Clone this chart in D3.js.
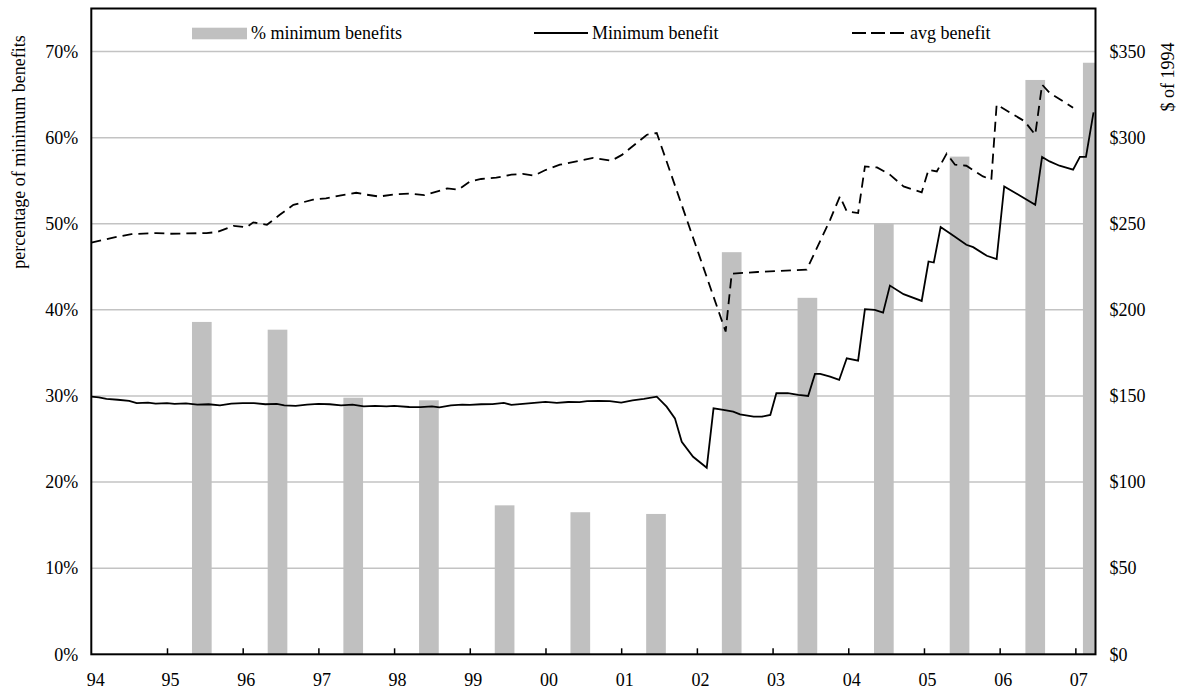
<!DOCTYPE html>
<html>
<head>
<meta charset="utf-8">
<script src="https://cdn.jsdelivr.net/npm/d3@7"></script>
<style>
  body { margin: 0; background: #fff; }
  svg text { font-family: "Liberation Serif", "Times New Roman", serif; fill: #000; }
</style>
</head>
<body>
<svg id="chart"></svg>
<script>
// bars: share of recipients on the minimum benefit (left axis)
var barYears = [1995.46, 1996.46, 1997.46, 1998.46, 1999.46, 2000.46, 2001.46,
                2002.46, 2003.46, 2004.47, 2005.47, 2006.47, 2007.23]
var barPct = [38.6, 37.7, 29.8, 29.5, 17.3, 16.5, 16.3, 46.7, 41.4, 50.0, 57.8, 66.7, 68.7]

// minimum benefit, $ of 1994 (right axis)
var minBenefit = [
  [1994.00, 149.6], [1994.10, 149.2], [1994.20, 148.3], [1994.35, 147.8], [1994.50, 147.2],
  [1994.60, 145.9], [1994.75, 146.1], [1994.85, 145.6], [1995.00, 145.9], [1995.10, 145.4],
  [1995.25, 145.7], [1995.40, 145.0], [1995.55, 145.2], [1995.70, 144.6], [1995.85, 145.6],
  [1996.00, 145.9], [1996.15, 145.8], [1996.30, 145.2], [1996.45, 145.4], [1996.55, 144.6],
  [1996.70, 144.3], [1996.85, 145.0], [1997.00, 145.4], [1997.15, 145.2], [1997.30, 144.6],
  [1997.45, 145.0], [1997.60, 144.0], [1997.75, 144.2], [1997.90, 144.0], [1998.00, 144.2],
  [1998.20, 143.6], [1998.35, 143.5], [1998.50, 144.0], [1998.60, 143.4], [1998.75, 144.5],
  [1998.90, 145.0], [1999.00, 144.8], [1999.15, 145.2], [1999.30, 145.3], [1999.45, 146.0],
  [1999.55, 144.8], [1999.70, 145.4], [1999.85, 146.0], [2000.00, 146.6], [2000.15, 146.0],
  [2000.30, 146.5], [2000.45, 146.4], [2000.55, 147.0], [2000.70, 147.2], [2000.85, 147.0],
  [2001.00, 146.2], [2001.15, 147.5], [2001.30, 148.3], [2001.47, 149.6], [2001.60, 143.8],
  [2001.71, 137.0], [2001.80, 123.4], [2001.95, 114.7], [2002.13, 108.3], [2002.22, 142.8],
  [2002.35, 141.9], [2002.48, 140.9], [2002.57, 139.3], [2002.75, 138.0], [2002.86, 138.0],
  [2002.97, 139.0], [2003.05, 151.6], [2003.20, 151.6], [2003.34, 150.6], [2003.47, 150.0],
  [2003.56, 162.8], [2003.63, 162.8], [2003.76, 161.2], [2003.88, 159.3], [2003.98, 171.9],
  [2004.13, 170.5], [2004.22, 200.4], [2004.35, 200.0], [2004.46, 198.4], [2004.55, 214.1],
  [2004.73, 209.1], [2004.97, 205.2], [2005.06, 228.1], [2005.13, 227.5], [2005.22, 248.1],
  [2005.39, 243.0], [2005.56, 237.8], [2005.65, 236.4], [2005.83, 231.4], [2005.96, 229.5],
  [2006.06, 271.7], [2006.27, 266.3], [2006.47, 261.0], [2006.56, 288.8], [2006.66, 286.2],
  [2006.79, 283.7], [2006.97, 281.4], [2007.06, 288.8], [2007.14, 288.8], [2007.24, 314.7]
]

// average benefit, $ of 1994 (right axis)
var avgBenefit = [
  [1994.00, 239.0], [1994.29, 242.0], [1994.53, 244.0], [1994.86, 244.6], [1995.04, 244.2],
  [1995.52, 244.6], [1995.66, 245.2], [1995.88, 248.8], [1996.05, 247.9], [1996.14, 250.8],
  [1996.32, 249.4], [1996.49, 255.2], [1996.67, 261.0], [1996.93, 264.0], [1997.10, 264.8],
  [1997.30, 266.5], [1997.50, 268.0], [1997.62, 267.0], [1997.80, 265.8], [1998.00, 267.0],
  [1998.20, 267.5], [1998.40, 266.6], [1998.55, 268.5], [1998.70, 270.5], [1998.85, 269.8],
  [1999.00, 274.5], [1999.15, 276.0], [1999.35, 276.8], [1999.55, 278.5], [1999.70, 279.0],
  [1999.85, 278.0], [2000.00, 281.2], [2000.19, 284.3], [2000.63, 288.2], [2000.87, 286.6],
  [2001.01, 290.0], [2001.34, 301.7], [2001.47, 302.7], [2002.38, 187.4], [2002.46, 221.0],
  [2002.80, 222.0], [2003.45, 223.3], [2003.76, 252.3], [2003.89, 265.9], [2003.98, 257.2],
  [2004.13, 256.2], [2004.22, 283.3], [2004.38, 282.7], [2004.55, 278.5], [2004.73, 271.7],
  [2004.97, 268.2], [2005.06, 281.4], [2005.17, 280.4], [2005.30, 290.7], [2005.41, 284.3],
  [2005.56, 283.7], [2005.78, 277.5], [2005.89, 275.6], [2005.96, 319.2], [2006.22, 312.4],
  [2006.33, 309.5], [2006.47, 301.7], [2006.56, 330.8], [2006.66, 326.0], [2006.84, 321.1],
  [2006.97, 317.3]
]

var yearTicks = d3.range(1994, 2008)
var pctTicks = [0, 0.1, 0.2, 0.3, 0.4, 0.5, 0.6, 0.7]
var dollarTicks = [0, 50, 100, 150, 200, 250, 300, 350]

var dimensions = {
    width: 1179,
    height: 691,
    margin: { top: 8.5, bottom: 36.7, left: 91.3, right: 83.5 }
}
var plotRight = dimensions.width - dimensions.margin.right
var plotBottom = dimensions.height - dimensions.margin.bottom

var svg = d3.select("#chart")
    .attr("width", dimensions.width)
    .attr("height", dimensions.height)

var xScale = d3.scaleLinear()
    .domain([1994, 2007.266])
    .range([dimensions.margin.left, plotRight])

var yPct = d3.scaleLinear()
    .domain([0, 0.75])
    .range([plotBottom, dimensions.margin.top])

var yDollar = d3.scaleLinear()
    .domain([0, 375])
    .range([plotBottom, dimensions.margin.top])

svg.append("defs").append("clipPath").attr("id", "plotclip")
    .append("rect")
    .attr("x", dimensions.margin.left)
    .attr("y", dimensions.margin.top)
    .attr("width", plotRight - dimensions.margin.left)
    .attr("height", plotBottom - dimensions.margin.top)

// gridlines
svg.append("g")
    .selectAll("line")
    .data(pctTicks.slice(1))
    .join("line")
    .attr("x1", dimensions.margin.left)
    .attr("x2", plotRight)
    .attr("y1", d => yPct(d))
    .attr("y2", d => yPct(d))
    .attr("stroke", "#c3c3c3")
    .attr("stroke-width", 1.5)

var plot = svg.append("g").attr("clip-path", "url(#plotclip)")

var barWidth = xScale(1994.26) - xScale(1994)
plot.selectAll("rect.bar")
    .data(barYears)
    .join("rect")
    .attr("class", "bar")
    .attr("x", d => xScale(d) - barWidth / 2)
    .attr("width", barWidth)
    .attr("y", (d, i) => yPct(barPct[i] / 100))
    .attr("height", (d, i) => plotBottom - yPct(barPct[i] / 100))
    .attr("fill", "#c0c0c0")

var lineGen = d3.line()
    .x(d => xScale(d[0]))
    .y(d => yDollar(d[1]))

plot.append("path")
    .datum(avgBenefit)
    .attr("d", lineGen)
    .attr("fill", "none")
    .attr("stroke", "#000")
    .attr("stroke-width", 1.8)
    .attr("stroke-dasharray", "10,6")

plot.append("path")
    .datum(minBenefit)
    .attr("d", lineGen)
    .attr("fill", "none")
    .attr("stroke", "#000")
    .attr("stroke-width", 1.8)

// frame
svg.append("rect")
    .attr("x", dimensions.margin.left)
    .attr("y", dimensions.margin.top)
    .attr("width", plotRight - dimensions.margin.left)
    .attr("height", plotBottom - dimensions.margin.top)
    .attr("fill", "none")
    .attr("stroke", "#000")
    .attr("stroke-width", 2)

// axes
var xAxisGen = d3.axisBottom(xScale)
    .tickValues(yearTicks)
    .tickFormat(d => String(d).slice(2))
    .tickSizeInner(-6)
    .tickSizeOuter(0)
    .tickPadding(19)

var xAxis = svg.append("g")
    .attr("transform", "translate(0," + plotBottom + ")")
    .call(xAxisGen)
xAxis.select(".domain").remove()
xAxis.selectAll(".tick line").attr("stroke", "#000").attr("stroke-width", 1.5)
xAxis.selectAll(".tick").filter(d => d === 1994).select("line").remove()
xAxis.selectAll(".tick text")
    .attr("x", d => d === 1994 ? 4 : 3)
    .style("font-size", "18px")

var yAxisLeft = svg.append("g")
    .attr("transform", "translate(" + dimensions.margin.left + ",0)")
    .call(d3.axisLeft(yPct).tickValues(pctTicks).tickFormat(d3.format(".0%")).tickSize(0).tickPadding(13))
yAxisLeft.select(".domain").remove()
yAxisLeft.selectAll("text").style("font-size", "18px")

var yAxisRight = svg.append("g")
    .attr("transform", "translate(" + plotRight + ",0)")
    .call(d3.axisRight(yDollar).tickValues(dollarTicks).tickFormat(d => "$" + d).tickSize(0).tickPadding(14))
yAxisRight.select(".domain").remove()
yAxisRight.selectAll("text").style("font-size", "18px")

svg.selectAll(".tick text").style("font-family", "'Liberation Serif', serif")

// axis titles
svg.append("text")
    .attr("transform", "translate(25,152) rotate(-90)")
    .attr("text-anchor", "middle")
    .style("font-size", "18px")
    .text("percentage of minimum benefits")

svg.append("text")
    .attr("transform", "translate(1174,77) rotate(-90)")
    .attr("text-anchor", "middle")
    .style("font-size", "18px")
    .text("$ of 1994")

// legend
var legend = svg.append("g")
legend.append("rect")
    .attr("x", 192).attr("y", 27.7)
    .attr("width", 55).attr("height", 11.6)
    .attr("fill", "#c0c0c0")
legend.append("text")
    .attr("x", 251).attr("y", 39.3)
    .style("font-size", "18px")
    .text("% minimum benefits")

legend.append("line")
    .attr("x1", 534).attr("x2", 588)
    .attr("y1", 33).attr("y2", 33)
    .attr("stroke", "#000").attr("stroke-width", 1.8)
legend.append("text")
    .attr("x", 592).attr("y", 39.3)
    .style("font-size", "18px")
    .text("Minimum benefit")

legend.append("line")
    .attr("x1", 852).attr("x2", 904)
    .attr("y1", 33).attr("y2", 33)
    .attr("stroke", "#000").attr("stroke-width", 1.8)
    .attr("stroke-dasharray", "14,5")
legend.append("text")
    .attr("x", 910).attr("y", 39.3)
    .style("font-size", "18px")
    .text("avg benefit")
</script>
</body>
</html>
